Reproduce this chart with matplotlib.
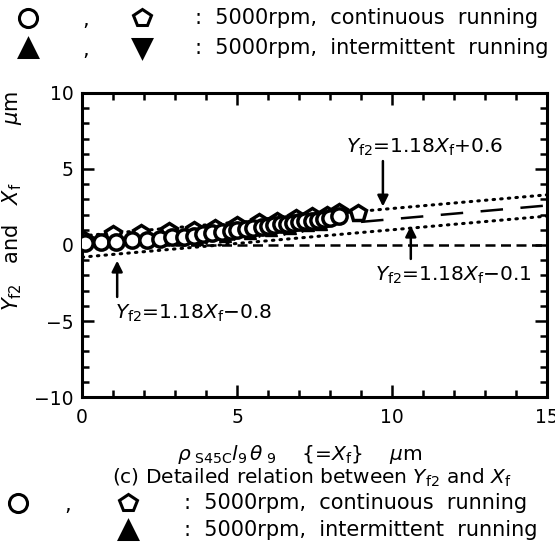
import numpy as np
import matplotlib.pyplot as plt
from matplotlib.lines import Line2D
from matplotlib.ticker import MultipleLocator

plt.rcParams['font.family'] = ['DejaVu Sans']
plt.rcParams['mathtext.fontset'] = 'dejavusans'

# 5000rpm, continuous running (circles)
circ_x = [0.1, 0.6, 1.1, 1.6, 2.1, 2.5, 2.9, 3.3, 3.6, 3.9, 4.2, 4.5, 4.8, 5.0, 5.3,
          5.5, 5.8, 6.0, 6.2, 6.4, 6.6, 6.8, 7.0, 7.2, 7.4, 7.6, 7.8, 8.0, 8.3]
circ_y = [0.1, 0.2, 0.2, 0.3, 0.35, 0.4, 0.5, 0.55, 0.6, 0.7, 0.8, 0.85, 0.9, 1.0, 1.05,
          1.1, 1.2, 1.25, 1.3, 1.35, 1.4, 1.45, 1.5, 1.55, 1.6, 1.65, 1.7, 1.8, 1.9]
# 5000rpm, continuous running (pentagons)
pent_x = [0.05, 1.0, 1.9, 2.8, 3.6, 4.3, 5.0, 5.7, 6.3, 6.9, 7.4, 7.9, 8.3, 8.9]
pent_y = [0.3, 0.7, 0.8, 0.9, 1.0, 1.1, 1.3, 1.5, 1.6, 1.8, 1.9, 2.0, 2.2, 2.1]
# 5000rpm, intermittent running
tri_x = [3.7, 4.6, 5.4, 6.1, 6.7, 7.3, 7.7]
tri_y = [0.4, 0.6, 0.8, 1.0, 1.1, 1.3, 1.4]
tdn_x = [4.0, 4.9, 5.7, 6.5, 7.1]
tdn_y = [0.45, 0.7, 0.9, 1.05, 1.25]

# fitted lines (plotted as deviation, slope 0.18)
line_x = [0, 15]
upper_y = [0.6, 0.6 + 0.18 * 15]
lower_y = [-0.8, -0.8 + 0.18 * 15]
mid_x = [0, 15]
mid_y = [-0.1, -0.1 + 0.18 * 15]

fig = plt.figure(figsize=(5.55, 5.53), dpi=100)
ax = fig.add_axes([0.148, 0.282, 0.838, 0.550])

ax.plot(line_x, [0, 0], color='black', lw=1.8, ls=(0, (4, 2.2)), zorder=1)
ax.plot(line_x, upper_y, color='black', lw=2.2, ls=(0, (0.5, 2.0)), dash_capstyle='round', zorder=1)
ax.plot(line_x, lower_y, color='black', lw=2.2, ls=(0, (0.5, 2.0)), dash_capstyle='round', zorder=1)
ax.plot(mid_x, mid_y, color='black', lw=1.8, ls=(0, (9, 7)), zorder=1)

ax.plot(pent_x, pent_y, ls='none', marker='p', ms=12, mfc='white', mec='black', mew=2.5, zorder=2)
ax.plot(tri_x, tri_y, ls='none', marker='^', ms=9, color='black', zorder=3)
ax.plot(tdn_x, tdn_y, ls='none', marker='v', ms=9, color='black', zorder=3)
ax.plot(circ_x, circ_y, ls='none', marker='o', ms=11, mfc='white', mec='black', mew=2.5, zorder=4)

ax.set_xlim(0, 15)
ax.set_ylim(-10, 10)
ax.xaxis.set_major_locator(MultipleLocator(5))
ax.xaxis.set_minor_locator(MultipleLocator(1))
ax.yaxis.set_minor_locator(MultipleLocator(1))
ax.set_yticks([-10, -5, 0, 5, 10])
ax.set_yticklabels(['\u221210', '\u22125', '0', '5', '10'])
ax.tick_params(which='both', direction='in', top=True, right=True, labelsize=13.5, width=1.8)
ax.tick_params(axis='x', pad=8)
ax.tick_params(axis='y', pad=6)
ax.tick_params(which='major', length=8.5)
ax.tick_params(which='minor', length=5)
for s in ax.spines.values():
    s.set_linewidth(2.2)

# annotations
fs = 14.5
arw = dict(arrowstyle='-|>', color='black', lw=1.8, mutation_scale=16)
ax.annotate('', xy=(9.7, 2.35), xytext=(9.7, 5.7), arrowprops=arw)
ax.text(8.5, 6.4, r'$Y_{\mathrm{f2}}$=1.18$X_{\mathrm{f}}$+0.6', fontsize=fs, va='center')
ax.annotate('', xy=(10.6, 1.45), xytext=(10.6, -1.1), arrowprops=arw)
ax.text(9.45, -2.0, r'$Y_{\mathrm{f2}}$=1.18$X_{\mathrm{f}}$$-$0.1', fontsize=fs, va='center')
ax.annotate('', xy=(1.13, -0.85), xytext=(1.13, -3.6), arrowprops=arw)
ax.text(1.06, -4.5, r'$Y_{\mathrm{f2}}$=1.18$X_{\mathrm{f}}$$-$0.8', fontsize=fs, va='center')

# axis labels
fig.text(12 / 555, 1 - 201 / 553, r'$Y_{\mathrm{f2}}$   and   $X_{\mathrm{f}}$         $\mu$m',
         rotation=90, ha='center', va='center', fontsize=15)
fig.text(0.54, 1 - 455 / 553, r'$\rho_{\ \mathrm{S45C}}l_{9}\,\theta_{\ 9}$    {=$X_{\mathrm{f}}$}    $\mu$m',
         ha='center', va='center', fontsize=fs)
fig.text(112 / 555, 1 - 478 / 553, r'(c) Detailed relation between $Y_{\mathrm{f2}}$ and $X_{\mathrm{f}}$',
         ha='left', va='center', fontsize=fs)


def key(px, py, marker, filled):
    fc = 'black' if filled else 'white'
    fig.add_artist(Line2D([px / 555], [1 - py / 553], transform=fig.transFigure, marker=marker,
                          ms=13, mfc=fc, mec='black', mew=2.2, ls='none'))


def words(px, py, s):
    fig.text(px / 555, 1 - py / 553, s, ha='left', va='center', fontsize=15)


# legend block at the top
key(28, 18, 'o', False)
words(82, 20, ',')
key(142, 18, 'p', False)
words(195, 18, ':  5000rpm,  continuous  running')
key(28, 48, '^', True)
words(82, 50, ',')
key(142, 48, 'v', True)
words(195, 48, ':  5000rpm,  intermittent  running')

# legend block at the bottom
key(18, 503, 'o', False)
words(64, 505, ',')
key(128, 503, 'p', False)
words(184, 503, ':  5000rpm,  continuous  running')
key(128, 530, '^', True)
words(184, 530, ':  5000rpm,  intermittent  running')

fig.savefig('out.png', dpi=100)
